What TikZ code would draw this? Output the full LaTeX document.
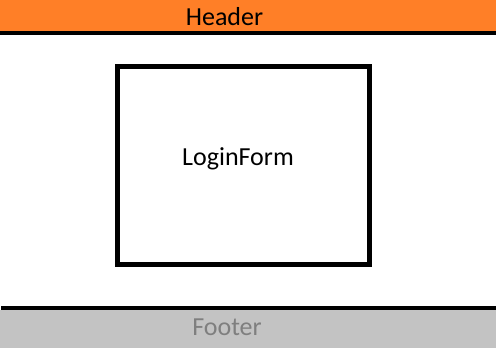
\documentclass[tikz,border=0pt]{standalone}
\usepackage{fontspec}
\setmainfont{Carlito}
\definecolor{headerorange}{RGB}{255,127,39}
\definecolor{footergray}{RGB}{195,195,195}
\definecolor{footertext}{RGB}{127,127,127}
\begin{document}
\begin{tikzpicture}[x=1pt,y=-1pt,
  label/.style={font=\fontsize{26}{30}\selectfont, inner sep=0pt, anchor=base},
  rule/.style={line width=4pt, black}]
\useasboundingbox (0,0) rectangle (496,348);
% header band and its lower rule
\fill[headerorange] (0,0) rectangle (496,32);
\coordinate (hl) at (0,33);
\coordinate (hr) at (496,33);
\draw[rule] (hl) -- (hr);
\node[label] (header) at (224.5,25.7) {Header};
% login form box
\node[draw=black, line width=5pt, minimum width=251.5pt, minimum height=198.7pt, inner sep=0pt] (form) at (243.25,165.35) {};
\node[label] (formtext) at (238,165) {LoginForm};
% footer band and its upper rule
\fill[footergray] (0,310) rectangle (496,348);
\coordinate (fl) at (1,308);
\coordinate (fr) at (496,308);
\draw[rule] (fl) -- (fr);
\node[label, text=footertext] (footer) at (227,335) {Footer};
\end{tikzpicture}
\end{document}
